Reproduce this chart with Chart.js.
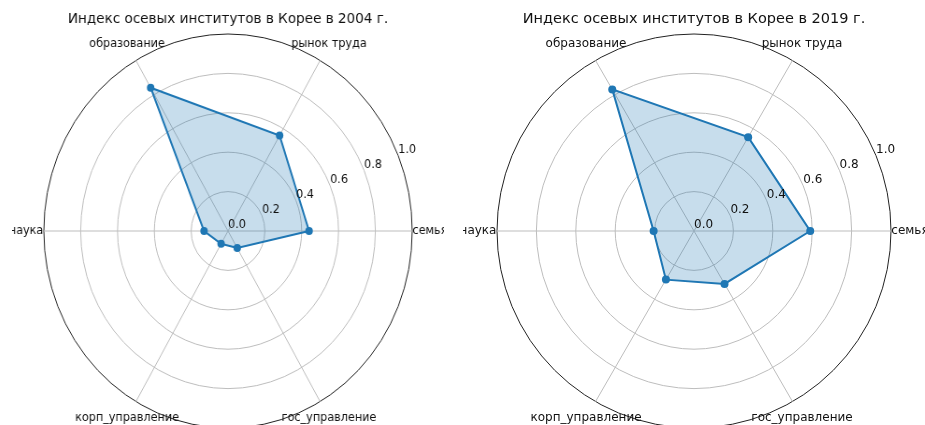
<!DOCTYPE html>
<html>
<head>
<meta charset="utf-8">
<script src="https://cdn.jsdelivr.net/npm/chart.js@4.4.0/dist/chart.umd.min.js"></script>
<style>
    html, body { margin: 0; padding: 0; background: #fff; overflow: hidden; }
    body { width: 925px; height: 425px; position: relative; }
    canvas { position: absolute; top: 0; }
    #chart2004 { left: -3.5px; transform: scaleX(0.935); transform-origin: 50% 50%; }
    #chart2019 { left: 463px; }
</style>
</head>
<body>
<canvas id="chart2004" width="462" height="440"></canvas>
<canvas id="chart2019" width="462" height="440"></canvas>
<script>
// categories in matplotlib order (counter-clockwise from the east)
const categories = ['семья', 'рынок труда', 'образование', 'наука', 'корп_управление', 'гос_управление'];
const values2004 = [0.44, 0.56, 0.84, 0.13, 0.075, 0.10];
const values2019 = [0.59, 0.55, 0.83, 0.205, 0.285, 0.31];
const tickValues = [0, 0.2, 0.4, 0.6, 0.8, 1.0];
const titles = ['Индекс осевых институтов в Корее в 2004 г.', 'Индекс осевых институтов в Корее в 2019 г.'];

// chart.js goes clockwise, so flip the order after the first item
const order = [0, 5, 4, 3, 2, 1];
const reorder = arr => order.map(i => arr[i]);

const FONT = '"DejaVu Sans", sans-serif';
const GRID = '#bdbdbd';

// matplotlib-like labels: theta labels centered just outside the circle,
// r labels along the 22.5 degree line
const polarLabels = {
    id: 'polarLabels',
    afterDraw(chart) {
        const ctx = chart.ctx;
        const r = chart.scales.r;
        ctx.save();
        ctx.fillStyle = '#111';
        ctx.font = '12px ' + FONT;

        ctx.textAlign = 'center';
        ctx.textBaseline = 'middle';
        chart.data.labels.forEach((label, i) => {
            const p = r.getPointPosition(i, r.drawingArea + 19);
            ctx.fillText(label, p.x, p.y);
        });

        const a = 22.5 * Math.PI / 180;
        ctx.textAlign = 'left';
        ctx.textBaseline = 'bottom';
        tickValues.forEach(v => {
            const d = r.getDistanceFromCenterForValue(v);
            ctx.fillText(v.toFixed(1), r.xCenter + d * Math.cos(a), r.yCenter - d * Math.sin(a));
        });
        ctx.restore();
    }
};

function makeRadar(id, title, values) {
    return new Chart(document.getElementById(id), {
        type: 'radar',
        data: {
            labels: reorder(categories),
            datasets: [{
                data: reorder(values),
                borderColor: '#1f77b4',
                backgroundColor: 'rgba(31, 119, 180, 0.25)',
                borderWidth: 2,
                pointRadius: 4,
                pointBackgroundColor: '#1f77b4',
                pointBorderWidth: 0,
                fill: true,
                tension: 0
            }]
        },
        options: {
            responsive: false,
            animation: false,
            devicePixelRatio: 1,
            layout: { padding: { left: 34, right: 34, top: 0, bottom: 12 } },
            plugins: {
                legend: { display: false },
                tooltip: { enabled: false },
                title: {
                    display: true,
                    text: title,
                    color: '#111',
                    font: { family: FONT, size: 14.5, weight: 'normal' },
                    padding: { top: 11, bottom: 5.6 }
                }
            },
            scales: {
                r: {
                    min: 0,
                    max: 1,
                    startAngle: 90,
                    ticks: { stepSize: 0.2, display: false },
                    pointLabels: { display: false },
                    grid: {
                        circular: true,
                        color: c => (c.tick && c.tick.value > 0.99) ? '#222' : GRID,
                        lineWidth: 1
                    },
                    angleLines: { color: GRID, lineWidth: 1 }
                }
            }
        },
        plugins: [polarLabels]
    });
}

makeRadar('chart2004', titles[0], values2004);
makeRadar('chart2019', titles[1], values2019);
</script>
</body>
</html>
